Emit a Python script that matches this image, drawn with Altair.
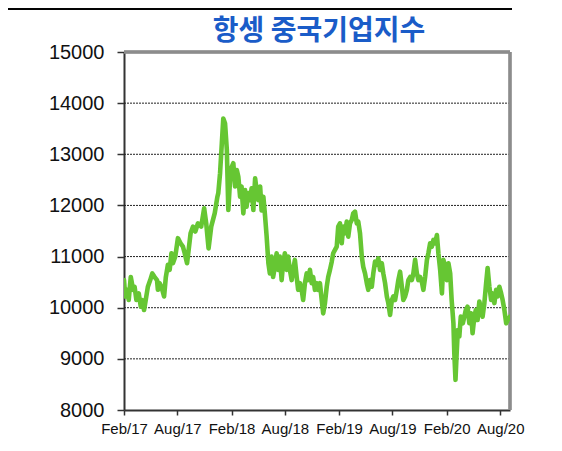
import altair as alt
import pandas as pd

start_date = "2017-02-01"
day_offsets = [
    0, 4, 11, 16, 23, 31, 36, 42, 50, 57, 61, 68, 72, 81, 89, 96, 104, 112, 115, 121,
    127, 136, 142, 149, 155, 161, 166, 174, 183, 192, 200, 206, 214, 220, 226, 234, 242, 251, 262, 272,
    279, 287, 296, 308, 317, 320, 326, 332, 337, 343, 349, 354, 360, 366, 371, 377, 383, 388, 394, 399,
    405, 411, 416, 422, 428, 433, 439, 445, 450, 456, 462, 467, 473, 478, 484, 490, 495, 501, 506, 512,
    518, 523, 529, 535, 540, 546, 552, 557, 563, 569, 574, 580, 586, 591, 597, 603, 608, 614, 620, 625,
    631, 637, 642, 648, 654, 659, 665, 671, 676, 682, 688, 693, 699, 705, 710, 716, 722, 727, 733, 739,
    744, 750, 756, 761, 767, 773, 778, 784, 790, 795, 801, 807, 812, 818, 824, 829, 835, 841, 846, 852,
    858, 863, 869, 875, 880, 886, 892, 897, 903, 909, 914, 920, 926, 931, 937, 943, 948, 954, 960, 965,
    971, 977, 982, 988, 994, 999, 1005, 1011, 1016, 1022, 1028, 1033, 1039, 1045, 1050, 1056, 1062, 1067, 1073, 1079,
    1084, 1090, 1096, 1101, 1107, 1112, 1118, 1121, 1125, 1129, 1133, 1138, 1143, 1150, 1155, 1160, 1166, 1172, 1178, 1183,
    1189, 1194, 1200, 1206, 1212, 1217, 1223, 1229, 1234, 1240, 1246, 1251, 1257, 1263, 1268, 1274, 1280, 1285, 1291, 1297,
    1302, 1310,
]
index_values = [
    10543, 10220, 10350, 10150, 10600, 10350, 10410, 10150, 10280, 10020, 10150, 9955, 10090, 10410, 10540, 10670, 10600, 10540, 10350, 10480,
    10410, 10220, 10600, 10840, 10740, 11065, 10870, 11000, 11360, 11260, 11195, 11065, 10870, 11160, 11455, 11585, 11490, 11650, 11585, 11945,
    11650, 11160, 11585, 11850, 12170, 12240, 12630, 13215, 13700, 13600, 13085, 11910, 12500, 12760, 12825, 12370, 12690, 12560, 12170, 12370,
    11845, 12300, 11975, 12240, 12105, 12335, 11910, 12530, 12300, 12105, 12370, 11900, 12170, 11845, 11400, 10870, 10670, 11000, 10600, 10800,
    11065, 10740, 11000, 10540, 10870, 11065, 10740, 11000, 10740, 10540, 10740, 10935, 10600, 10350, 10480, 10350, 10150, 10480, 10670, 10540,
    10740, 10480, 10600, 10350, 10480, 10350, 10480, 10150, 9890, 10090, 10410, 10600, 10740, 10900, 11065, 11130, 11195, 11585, 11650, 11260,
    11585, 11455, 11685, 11390, 11650, 11715, 11845, 11880, 11650, 11685, 11455, 11000, 10800, 10670, 10480, 10350, 10540, 10410, 10670, 10900,
    10840, 10965, 10740, 10870, 10670, 10480, 10220, 10090, 9860, 10150, 10220, 10150, 10350, 10540, 10705, 10410, 10150, 10220, 10350, 10540,
    10600, 10540, 10670, 10935, 10670, 10540, 10600, 10500, 10350, 10600, 10935, 11065, 11260, 11195, 11325, 11260, 11420, 11065, 10740, 10280,
    10935, 10800, 10540, 10870, 10670, 10150, 9695, 9110, 8590, 9110, 9565, 9435, 9825, 9695, 9825, 9955, 10020, 9695, 9890, 9500,
    9825, 9955, 9760, 10120, 9955, 9825, 10090, 10480, 10775, 10410, 10150, 10280, 10090, 10350, 10220, 10410, 10280, 10150, 9955, 9695,
    9760, 9825,
]
tick_dates = ["2017-02-01", "2017-08-01", "2018-02-01", "2018-08-01",
              "2019-02-01", "2019-08-01", "2020-02-01", "2020-08-01"]
x_domain = ["2017-02-01", "2020-09-03"]
y_ticks = [8000, 9000, 10000, 11000, 12000, 13000, 14000, 15000]
grid_values = [9000, 10000, 11000, 12000, 13000, 14000]
title_text = "항셍 중국기업지수"

df = pd.DataFrame({
    "date": pd.to_datetime(start_date) + pd.to_timedelta(day_offsets, unit="D"),
    "value": index_values,
})
grid_df = pd.DataFrame({"g": grid_values})
title_df = pd.DataFrame({"t": [title_text]})

x_scale = alt.Scale(domain=[pd.Timestamp(d).isoformat() for d in x_domain], nice=False)
y_scale = alt.Scale(domain=[8000, 15000], nice=False, zero=False)

grid = alt.Chart(grid_df).mark_rule(
    color="#222222", strokeWidth=1, strokeDash=[2, 1]
).encode(y=alt.Y("g:Q", scale=y_scale))

top_border = alt.Chart(grid_df).mark_rule(color="#8c8c8c", strokeWidth=2.5).encode(
    x=alt.value(0), x2=alt.value(386), y=alt.value(0)
)
right_border = alt.Chart(grid_df).mark_rule(color="#8c8c8c", strokeWidth=2.5).encode(
    x=alt.value(386), y=alt.value(0), y2=alt.value(358)
)
frame_h = alt.Chart(grid_df).mark_rule(color="#000000", strokeWidth=1, clip=False).encode(
    x=alt.value(-130), x2=alt.value(388), y=alt.value(-43)
)
frame_v = alt.Chart(grid_df).mark_rule(color="#000000", strokeWidth=1, clip=False).encode(
    x=alt.value(387.5), y=alt.value(-52), y2=alt.value(-43)
)

title = alt.Chart(title_df).mark_text(
    font="Noto Sans CJK KR", fontSize=28, fontWeight="bold", color="#1a5cc8",
    align="center", baseline="middle", clip=False
).encode(x=alt.value(195), y=alt.value(-20), text="t:N")

line = alt.Chart(df).mark_line(
    color="#66c633", strokeWidth=4.6, strokeJoin="round", strokeCap="round", clip=True
).encode(
    x=alt.X("date:T", scale=x_scale,
            axis=alt.Axis(values=[pd.Timestamp(d).isoformat() for d in tick_dates],
                          format="%b/%y", title=None, grid=False,
                          labelFont="Liberation Sans", labelFontSize=15, labelColor="#111111",
                          labelPadding=6, tickSize=5, tickColor="#333333", tickWidth=1.5,
                          domainColor="#333333", domainWidth=2, labelOverlap=False,
                          labelFlush=False)),
    y=alt.Y("value:Q", scale=y_scale,
            axis=alt.Axis(values=y_ticks, title=None, grid=False, format="d",
                          labelFont="Liberation Sans", labelFontSize=20, labelColor="#111111",
                          labelPadding=13, tickSize=7, tickColor="#333333", tickWidth=1.5,
                          domainColor="#333333", domainWidth=2)),
)

chart = alt.layer(grid, top_border, right_border, line, frame_h, frame_v, title).properties(
    width=386,
    height=358,
    autosize="none",
    padding={"left": 116, "top": 44, "right": 44, "bottom": 30},
).configure_view(stroke=None)

chart.save("out.html", embed_options={"renderer": "svg", "actions": False})
